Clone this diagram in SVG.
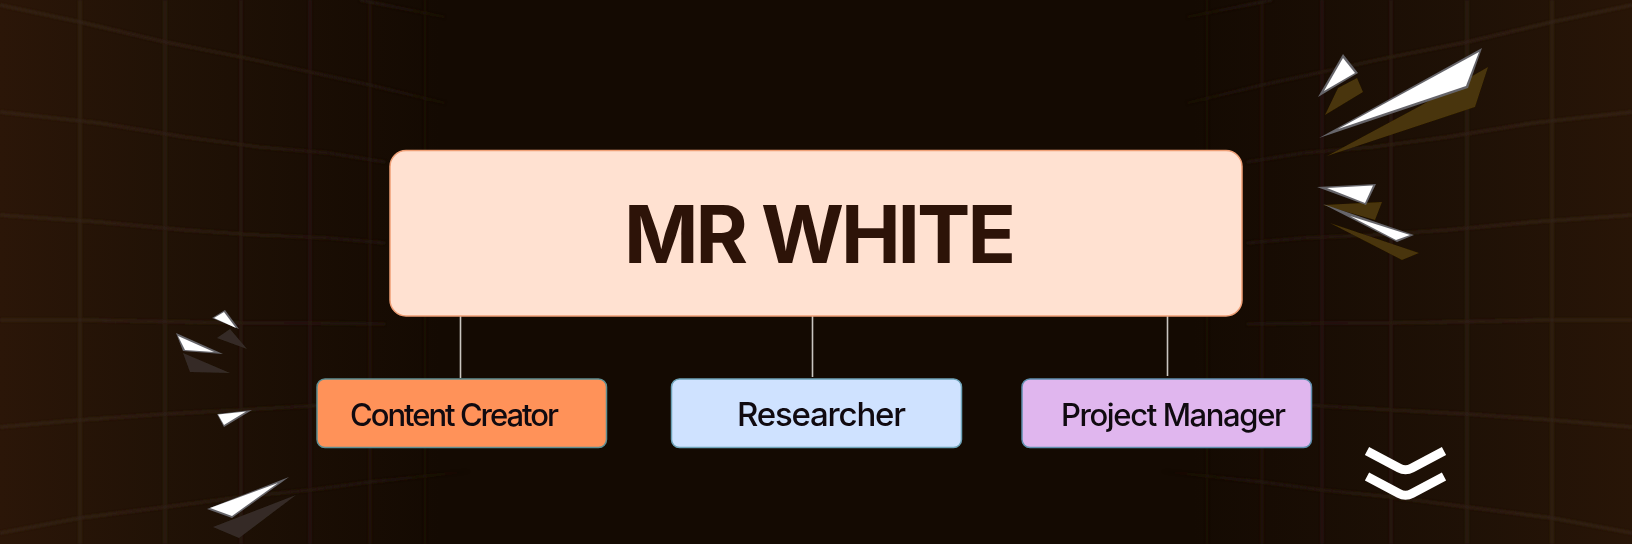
<svg xmlns="http://www.w3.org/2000/svg" width="1632" height="544" viewBox="0 0 1632 544">
<style>
.grid{fill:none;stroke:url(#fade);stroke-width:3}
.conn{stroke:#c9c5c0;stroke-width:1.6;fill:none}
.t{font-family:Inter,"Liberation Sans",Arial,sans-serif;fill:#100a10;font-weight:500;stroke:none}
.sh1{fill:#4a3508}.sh2{fill:#352c26}
.o{fill:#66656a}.i{fill:#fff}
</style>
<defs>
<linearGradient id="bg" x1="0" y1="0" x2="1" y2="0">
<stop offset="0" stop-color="#2b1608"/><stop offset=".1" stop-color="#211206"/><stop offset=".27" stop-color="#140a02"/><stop offset=".73" stop-color="#140a02"/><stop offset=".9" stop-color="#1f1106"/><stop offset="1" stop-color="#281507"/>
</linearGradient>
<linearGradient id="fade" gradientUnits="userSpaceOnUse" x1="0" y1="0" x2="470" y2="0">
<stop offset="0" stop-color="#352315"/><stop offset=".5" stop-color="#2b1c11"/><stop offset=".8" stop-color="#21150b"/><stop offset="1" stop-color="#21150b" stop-opacity="0"/>
</linearGradient>
<filter id="soft" x="-5%" y="-5%" width="110%" height="110%"><feGaussianBlur stdDeviation=".9"/></filter>
<filter id="soft2" x="-5%" y="-5%" width="110%" height="110%"><feGaussianBlur stdDeviation=".5"/></filter>
<g id="half">
<path d="M80 0V544M165 0V544M241 0V544M310 0V544M370 0V544M425 0V544"/>
<path d="M0 5L80 22L165 42L241 57L310 72L370 85L445 103"/>
<path d="M0 112L99 123L185 137L259 147L329 153L385 162"/>
<path d="M0 215L99 222L185 230L259 235L329 238L385 243"/>
<path d="M0 320L80 320L241 323L310 323L385 324"/>
<path d="M0 427L80 420L165 414L241 410L310 406L385 402"/>
<path d="M0 533L80 518L165 507L241 497L310 490L370 482L500 468"/>
<path d="M360 0L445 17"/>
</g>
</defs>
<rect width="1632" height="544" fill="url(#bg)"/>
<g id="background-grid" class="grid" filter="url(#soft)">
<use href="#half"/>
<use href="#half" transform="matrix(-1 0 0 1 1632 0)"/>
</g>
<g id="connectors" class="conn">
<path d="M460.500 316V378"/>
<path d="M812.500 316V377"/>
<path d="M1167.500 316V376"/>
</g>
<g id="node-mr-white">
<rect x="390" y="150.500" width="852" height="165.500" rx="16" fill="#ffe1d1" stroke="#ef9f76" stroke-width="1.500"/>
<text x="624" y="263" textLength="392" lengthAdjust="spacing" font-family="Inter,'Liberation Sans',Arial,sans-serif" font-weight="700" font-size="80" fill="#2d1308">MR WHITE</text>
</g>
<g id="node-content-creator">
<rect x="317" y="379" width="289.500" height="68.500" rx="8" fill="#ff9259" stroke="#5f8f93" stroke-width="1.500"/>
<text class="t" x="350" y="426" font-size="31" textLength="209" lengthAdjust="spacing">Content Creator</text>
</g>
<g id="node-researcher">
<rect x="671.500" y="379" width="290" height="68.500" rx="8" fill="#cfe2ff" stroke="#6ea3b8" stroke-width="1.500"/>
<text class="t" x="737" y="426" font-size="33" textLength="169" lengthAdjust="spacing">Researcher</text>
</g>
<g id="node-project-manager">
<rect x="1022" y="379" width="289.500" height="68.500" rx="8" fill="#e0b6ee" stroke="#5f8fae" stroke-width="1.500"/>
<text class="t" x="1061" y="426" font-size="31" textLength="225" lengthAdjust="spacing">Project Manager</text>
</g>
<g id="shards-right" filter="url(#soft2)">
<path class="sh1" d="M1357 78L1363 92L1325 115L1338 88Z"/>
<path class="sh1" d="M1488 67L1475 107L1327 156L1420 106Z"/>
<path class="sh1" d="M1382 202L1375 220L1323 205Z"/>
<path class="sh1" d="M1330 223L1419 253L1402 260Z"/>
<path class="o" d="M1343 54L1358 73L1318 97Z"/><path class="i" d="M1343 58L1355 73L1324 91Z"/>
<path class="o" d="M1482 48L1468 88L1319 138Z"/><path class="i" d="M1479 52L1466 86L1338 129Z"/>
<path class="o" d="M1317 187L1376 184L1366 205Z"/><path class="i" d="M1327 188L1373 185.500L1365 203Z"/>
<path class="o" d="M1323 204L1414 235L1397 242Z"/><path class="i" d="M1350 216L1410 235L1396 240Z"/>
</g>
<g id="shards-left" filter="url(#soft2)">
<path class="sh2" d="M230 329L247 349L217 338Z"/>
<path class="sh2" d="M183 353L230 373L190 372Z"/>
<path class="sh2" d="M296 495L239 538L213 527Z"/>
<path class="o" d="M225 310L239 329L212 318Z"/><path class="i" d="M224 312L236 328L214 318Z"/>
<path class="o" d="M176 333L223 354L183 351Z"/><path class="i" d="M178 336L214 352L185 350Z"/>
<path class="o" d="M252 410L224 427L217 414Z"/><path class="i" d="M246 411.500L224 425L218 414.500Z"/>
<path class="o" d="M289 477L232 518L207 509Z"/><path class="i" d="M278 483L232 516L210 508Z"/>
</g>
<g id="chevrons" fill="none" stroke="#fff" stroke-width="9" stroke-linejoin="round">
<path d="M1367 451L1399 468Q1405.500 471.500 1412 468L1444 451"/>
<path d="M1367 476.500L1399 493.500Q1405.500 497 1412 493.500L1444 476.500"/>
</g>
</svg>
